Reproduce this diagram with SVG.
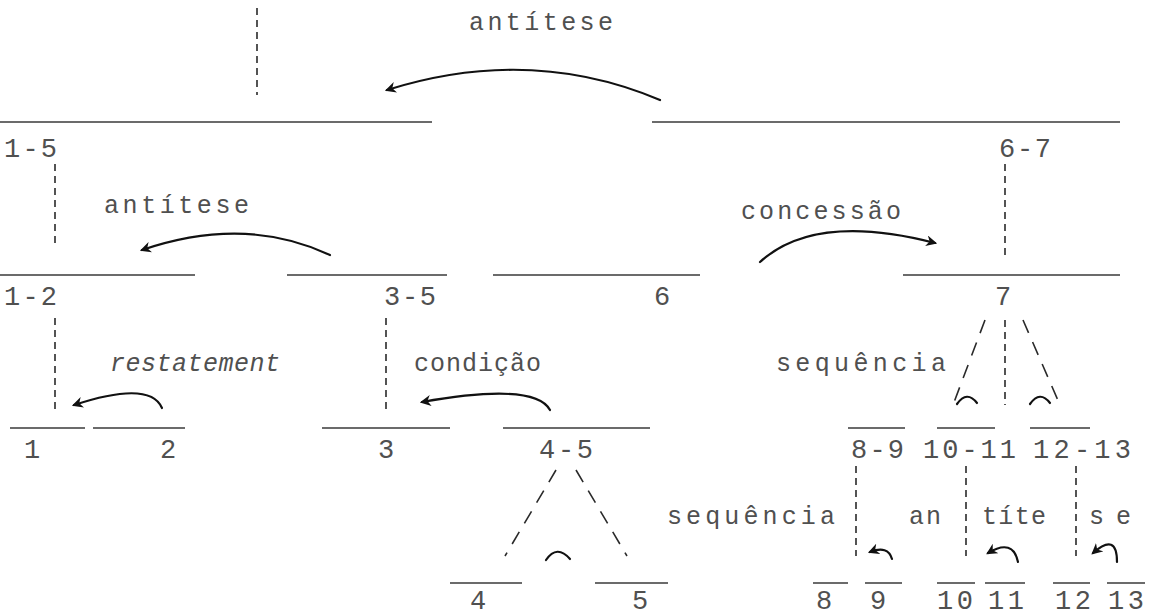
<svg xmlns="http://www.w3.org/2000/svg" width="1151" height="616" viewBox="0 0 1151 616">
<style>
.bg{fill:#ffffff}
.hl{stroke:#3a3a3a;stroke-width:1.3;fill:none}
.dv{stroke:#2a2a2a;stroke-width:1.6;stroke-dasharray:7 5;fill:none}
.dg{stroke:#2a2a2a;stroke-width:1.6;stroke-dasharray:14 10;fill:none}
.arc{stroke:#111;stroke-width:2.2;fill:none;stroke-linecap:round}
.num{font-family:"Liberation Mono","DejaVu Sans Mono",monospace;font-size:27px;fill:#505050}
.lab{font-family:"Liberation Mono","DejaVu Sans Mono",monospace;font-size:25px;fill:#505050}
.it{font-style:italic}
</style>
<defs>
<marker id="ah" viewBox="0 0 10 10" refX="8" refY="5" markerWidth="5" markerHeight="5" orient="auto-start-reverse" markerUnits="strokeWidth">
<path d="M0,0 L10,5 L0,10 L3,5 z" fill="#111"/>
</marker>
</defs>
<rect class="bg" x="0" y="0" width="1151" height="616"/>

<g id="root">
<line class="dv" x1="257" y1="8" x2="257" y2="95"/>
</g>

<g id="n1-5">
<line class="hl" x1="0" y1="122" x2="432" y2="122"/>
<text class="num" x="4" y="157" textLength="53" lengthAdjust="spacing">1-5</text>
<line class="dv" x1="55" y1="164" x2="55" y2="246"/>
</g>

<g id="n6-7">
<line class="hl" x1="652" y1="122" x2="1120" y2="122"/>
<text class="num" x="999" y="157" textLength="52" lengthAdjust="spacing">6-7</text>
<line class="dv" x1="1005" y1="164" x2="1005" y2="256"/>
</g>

<g id="n1-2">
<line class="hl" x1="0" y1="275" x2="195" y2="275"/>
<text class="num" x="4" y="305" textLength="53" lengthAdjust="spacing">1-2</text>
<line class="dv" x1="55" y1="318" x2="55" y2="410"/>
</g>

<g id="n3-5">
<line class="hl" x1="287" y1="275" x2="447" y2="275"/>
<text class="num" x="384" y="305" textLength="52" lengthAdjust="spacing">3-5</text>
<line class="dv" x1="386" y1="318" x2="386" y2="412"/>
</g>

<g id="n6">
<line class="hl" x1="493" y1="275" x2="700" y2="275"/>
<text class="num" x="662" y="305" text-anchor="middle">6</text>
</g>

<g id="n7">
<line class="hl" x1="903" y1="275" x2="1120" y2="275"/>
<text class="num" x="1003" y="305" text-anchor="middle">7</text>
<line class="dg" x1="985" y1="320" x2="953" y2="405"/>
<line class="dv" x1="1005" y1="320" x2="1005" y2="405"/>
<line class="dg" x1="1023" y1="320" x2="1060" y2="405"/>
</g>

<g id="n1">
<line class="hl" x1="10" y1="428" x2="85" y2="428"/>
<text class="num" x="32" y="458" text-anchor="middle">1</text>
</g>
<g id="n2">
<line class="hl" x1="93" y1="428" x2="185" y2="428"/>
<text class="num" x="168" y="458" text-anchor="middle">2</text>
</g>
<g id="n3">
<line class="hl" x1="322" y1="428" x2="450" y2="428"/>
<text class="num" x="386" y="458" text-anchor="middle">3</text>
</g>
<g id="n4-5">
<line class="hl" x1="503" y1="428" x2="650" y2="428"/>
<text class="num" x="539" y="458" textLength="54" lengthAdjust="spacing">4-5</text>
<line class="dg" x1="556" y1="470" x2="505" y2="556"/>
<line class="dg" x1="576" y1="470" x2="627" y2="556"/>
</g>
<g id="n4">
<line class="hl" x1="450" y1="583" x2="522" y2="583"/>
<text class="num" x="478" y="609" text-anchor="middle">4</text>
</g>
<g id="n5">
<line class="hl" x1="595" y1="583" x2="668" y2="583"/>
<text class="num" x="640" y="609" text-anchor="middle">5</text>
</g>

<g id="n8-9">
<line class="hl" x1="848" y1="428" x2="905" y2="428"/>
<text class="num" x="851" y="458" textLength="53" lengthAdjust="spacing">8-9</text>
<line class="dv" x1="856" y1="466" x2="856" y2="556"/>
</g>
<g id="n10-11">
<line class="hl" x1="937" y1="428" x2="995" y2="428"/>
<text class="num" x="923" y="458" textLength="93" lengthAdjust="spacing">10-11</text>
<line class="dv" x1="966" y1="466" x2="966" y2="556"/>
</g>
<g id="n12-13">
<line class="hl" x1="1030" y1="428" x2="1090" y2="428"/>
<text class="num" x="1033" y="458" textLength="98" lengthAdjust="spacing">12-13</text>
<line class="dv" x1="1076" y1="466" x2="1076" y2="556"/>
</g>

<g id="n8"><line class="hl" x1="813" y1="583" x2="848" y2="583"/><text class="num" x="824" y="609" text-anchor="middle">8</text></g>
<g id="n9"><line class="hl" x1="865" y1="583" x2="902" y2="583"/><text class="num" x="878" y="609" text-anchor="middle">9</text></g>
<g id="n10"><line class="hl" x1="937" y1="583" x2="975" y2="583"/><text class="num" x="955" y="609" text-anchor="middle" textLength="36" lengthAdjust="spacing">10</text></g>
<g id="n11"><line class="hl" x1="985" y1="583" x2="1025" y2="583"/><text class="num" x="1006" y="609" text-anchor="middle" textLength="36" lengthAdjust="spacing">11</text></g>
<g id="n12"><line class="hl" x1="1053" y1="583" x2="1090" y2="583"/><text class="num" x="1073" y="609" text-anchor="middle" textLength="36" lengthAdjust="spacing">12</text></g>
<g id="n13"><line class="hl" x1="1107" y1="583" x2="1145" y2="583"/><text class="num" x="1126" y="609" text-anchor="middle" textLength="36" lengthAdjust="spacing">13</text></g>

<g id="labels">
<text class="lab" x="469" y="30" textLength="144" lengthAdjust="spacing">antítese</text>
<text class="lab" x="104" y="213" textLength="145" lengthAdjust="spacing">antítese</text>
<text class="lab" x="741" y="219" textLength="160" lengthAdjust="spacing">concessão</text>
<text class="lab it" x="110" y="371" textLength="170" lengthAdjust="spacing">restatement</text>
<text class="lab" x="414" y="371" textLength="127" lengthAdjust="spacing">condição</text>
<text class="lab" x="776" y="371" textLength="170" lengthAdjust="spacing">sequência</text>
<text class="lab" x="667" y="524" textLength="168" lengthAdjust="spacing">sequência</text>
<text class="lab" x="909" y="524" textLength="32" lengthAdjust="spacing">an</text>
<text class="lab" x="982" y="524" textLength="64" lengthAdjust="spacing">títe</text>
<text class="lab" x="1089" y="524" textLength="42" lengthAdjust="spacing">se</text>
</g>

<g id="connectors">
<path class="arc" d="M660,100 Q530,45 387,90" marker-end="url(#ah)"/>
<path class="arc" d="M330,255 Q245,215 142,250" marker-end="url(#ah)"/>
<path class="arc" d="M760,262 Q815,212 935,243" marker-end="url(#ah)"/>
<path class="arc" d="M162,408 Q150,380 74,405" marker-end="url(#ah)"/>
<path class="arc" d="M550,410 Q535,382 422,402" marker-end="url(#ah)"/>
<path class="arc" d="M892,559 Q888,545 870,552" marker-end="url(#ah)"/>
<path class="arc" d="M1018,562 Q1013,538 988,553" marker-end="url(#ah)"/>
<path class="arc" d="M1117,562 Q1117,532 1093,553" marker-end="url(#ah)"/>
<path class="arc" d="M546,560 Q557,544 570,559"/>
<path class="arc" d="M957,404 Q967,390 977,403"/>
<path class="arc" d="M1030,404 Q1040,390 1050,403"/>
</g>
</svg>
